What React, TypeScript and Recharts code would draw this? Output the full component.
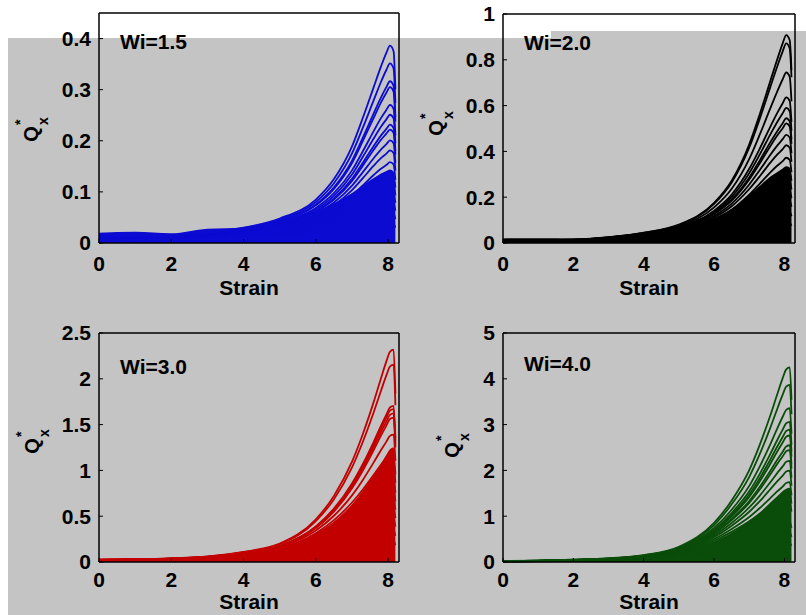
import React from "react";
import { Area, ComposedChart, Line, XAxis, YAxis } from "recharts";

const FONT = "'Liberation Sans', Arial, Helvetica, sans-serif";

const strain = [0, 1, 2, 3, 4, 5, 6, 6.5, 7, 7.3, 7.6, 7.8, 7.95, 8.05, 8.15, 8.2];
const strainTicks = [0, 2, 4, 6, 8];

// Wi = 1.5
const wi15Ticks = [0, 0.1, 0.2, 0.3, 0.4];
const wi15Band = [0.02, 0.022, 0.019, 0.028, 0.03, 0.042, 0.062, 0.078, 0.098, 0.113, 0.127, 0.136, 0.141, 0.144, 0.14, 0.115];
const wi15Curves = [
  [0.007, 0.0075, 0.008, 0.0105, 0.015, 0.017, 0.0213, 0.0249, 0.0301, 0.0331, 0.036, 0.0369, 0.0372, 0.0386, 0.0375, 0.0301],
  [0.008, 0.0086, 0.0092, 0.012, 0.0172, 0.0207, 0.0278, 0.0339, 0.0425, 0.0485, 0.054, 0.0566, 0.0577, 0.0598, 0.0581, 0.0467],
  [0.0088, 0.0094, 0.01, 0.0131, 0.0188, 0.0238, 0.0333, 0.0419, 0.0542, 0.063, 0.0714, 0.0759, 0.0781, 0.0811, 0.0788, 0.0632],
  [0.0094, 0.01, 0.0107, 0.014, 0.02, 0.0262, 0.0379, 0.0488, 0.0643, 0.076, 0.0872, 0.0935, 0.0967, 0.1004, 0.0975, 0.0783],
  [0.0099, 0.0106, 0.0113, 0.0148, 0.0211, 0.0283, 0.0421, 0.055, 0.0741, 0.0884, 0.1028, 0.1107, 0.1153, 0.1197, 0.1163, 0.0933],
  [0.0103, 0.011, 0.0118, 0.0155, 0.0221, 0.0303, 0.0461, 0.0611, 0.0835, 0.1007, 0.118, 0.128, 0.1339, 0.139, 0.135, 0.1084],
  [0.0107, 0.0115, 0.0122, 0.0161, 0.023, 0.0321, 0.0497, 0.067, 0.0926, 0.1127, 0.133, 0.1452, 0.1525, 0.1583, 0.1538, 0.1234],
  [0.0112, 0.012, 0.0128, 0.0167, 0.0239, 0.0342, 0.0541, 0.0738, 0.1034, 0.1269, 0.1513, 0.1659, 0.1748, 0.1814, 0.1763, 0.1415],
  [0.0115, 0.0123, 0.0132, 0.0173, 0.0247, 0.0358, 0.0574, 0.0791, 0.1121, 0.1387, 0.1659, 0.1829, 0.1934, 0.2007, 0.195, 0.1565],
  [0.0119, 0.0127, 0.0136, 0.0178, 0.0254, 0.0374, 0.061, 0.0849, 0.1215, 0.1514, 0.1824, 0.2018, 0.2139, 0.222, 0.2156, 0.1731],
  [0.012, 0.0129, 0.0137, 0.018, 0.0257, 0.0382, 0.0626, 0.0874, 0.1255, 0.157, 0.1897, 0.2101, 0.2232, 0.2316, 0.225, 0.1806],
  [0.0123, 0.0132, 0.0141, 0.0185, 0.0264, 0.0396, 0.0656, 0.0924, 0.1338, 0.1686, 0.2044, 0.2274, 0.2418, 0.2509, 0.2438, 0.1957],
  [0.0126, 0.0135, 0.0144, 0.0189, 0.027, 0.0409, 0.0686, 0.0974, 0.1421, 0.1796, 0.219, 0.2443, 0.2604, 0.2702, 0.2625, 0.2107],
  [0.013, 0.014, 0.0149, 0.0196, 0.028, 0.0432, 0.0738, 0.106, 0.1565, 0.1997, 0.2449, 0.2746, 0.2939, 0.3049, 0.2963, 0.2378],
  [0.0132, 0.0141, 0.0151, 0.0198, 0.0283, 0.0439, 0.0755, 0.1089, 0.1612, 0.2063, 0.2538, 0.2846, 0.305, 0.3165, 0.3075, 0.2468],
  [0.0136, 0.0146, 0.0156, 0.0204, 0.0292, 0.046, 0.0803, 0.117, 0.1752, 0.2256, 0.2794, 0.315, 0.3385, 0.3513, 0.3413, 0.2739],
  [0.014, 0.015, 0.016, 0.021, 0.03, 0.048, 0.085, 0.125, 0.189, 0.245, 0.305, 0.345, 0.372, 0.386, 0.375, 0.301],
];

// Wi = 2.0
const wi20Ticks = [0, 0.2, 0.4, 0.6, 0.8, 1];
const wi20Band = [0.02, 0.021, 0.02, 0.03, 0.045, 0.065, 0.11, 0.15, 0.21, 0.25, 0.29, 0.31, 0.325, 0.335, 0.33, 0.29];
const wi20Curves = [
  [0.006, 0.0065, 0.0075, 0.0125, 0.0225, 0.0284, 0.0439, 0.0541, 0.0685, 0.076, 0.0835, 0.086, 0.0872, 0.0908, 0.0885, 0.0754],
  [0.0069, 0.0074, 0.0086, 0.0143, 0.0257, 0.0346, 0.0572, 0.0737, 0.097, 0.1115, 0.1253, 0.1319, 0.1352, 0.1407, 0.1372, 0.1169],
  [0.0075, 0.0081, 0.0094, 0.0157, 0.0282, 0.0396, 0.0686, 0.0911, 0.1237, 0.1447, 0.1657, 0.1769, 0.1831, 0.1907, 0.1859, 0.1583],
  [0.008, 0.0087, 0.01, 0.0167, 0.0301, 0.0436, 0.0781, 0.1061, 0.1465, 0.1745, 0.2025, 0.2179, 0.2267, 0.2361, 0.2301, 0.196],
  [0.0084, 0.0092, 0.0106, 0.0176, 0.0317, 0.0472, 0.0866, 0.1197, 0.169, 0.2032, 0.2386, 0.2581, 0.2703, 0.2815, 0.2744, 0.2337],
  [0.0088, 0.0096, 0.011, 0.0184, 0.0331, 0.0505, 0.0949, 0.133, 0.1905, 0.2314, 0.274, 0.2983, 0.3139, 0.3269, 0.3186, 0.2714],
  [0.0092, 0.0099, 0.0115, 0.0191, 0.0344, 0.0535, 0.1024, 0.1458, 0.2112, 0.259, 0.3087, 0.3385, 0.3575, 0.3723, 0.3629, 0.3091],
  [0.0096, 0.0104, 0.012, 0.0199, 0.0359, 0.057, 0.1113, 0.1605, 0.2358, 0.2916, 0.3512, 0.3867, 0.4098, 0.4268, 0.416, 0.3544],
  [0.0099, 0.0107, 0.0123, 0.0206, 0.037, 0.0596, 0.1181, 0.1722, 0.2556, 0.3187, 0.3852, 0.4261, 0.4534, 0.4722, 0.4602, 0.3921],
  [0.0102, 0.011, 0.0127, 0.0212, 0.0381, 0.0624, 0.1257, 0.1847, 0.2771, 0.3479, 0.4234, 0.4703, 0.5014, 0.5221, 0.5089, 0.4336],
  [0.0103, 0.0112, 0.0129, 0.0215, 0.0386, 0.0636, 0.1288, 0.1901, 0.2862, 0.3609, 0.4404, 0.4896, 0.5232, 0.5448, 0.531, 0.4524],
  [0.0105, 0.0114, 0.0132, 0.022, 0.0396, 0.0659, 0.1351, 0.201, 0.3051, 0.3873, 0.4744, 0.5298, 0.5668, 0.5902, 0.5753, 0.4901],
  [0.0108, 0.0117, 0.0135, 0.0225, 0.0405, 0.0682, 0.1412, 0.2119, 0.3241, 0.4127, 0.5083, 0.5692, 0.6104, 0.6356, 0.6195, 0.5278],
  [0.0113, 0.0122, 0.0141, 0.0236, 0.0424, 0.0732, 0.1554, 0.2369, 0.3676, 0.474, 0.589, 0.6633, 0.715, 0.7446, 0.7257, 0.6183],
  [0.0119, 0.0128, 0.0148, 0.0247, 0.0445, 0.0786, 0.1708, 0.2644, 0.4172, 0.5433, 0.6818, 0.7726, 0.8371, 0.8717, 0.8496, 0.7238],
  [0.012, 0.013, 0.015, 0.025, 0.045, 0.08, 0.175, 0.272, 0.431, 0.563, 0.708, 0.804, 0.872, 0.908, 0.885, 0.754],
];

// Wi = 3.0
const wi30Ticks = [0, 0.5, 1, 1.5, 2, 2.5];
const wi30Band = [0.035, 0.038, 0.045, 0.06, 0.09, 0.15, 0.31, 0.44, 0.63, 0.78, 0.95, 1.07, 1.17, 1.23, 1.25, 1.0];
const wi30Curves = [
  [0.0125, 0.015, 0.02, 0.0301, 0.0551, 0.071, 0.117, 0.1437, 0.1741, 0.1887, 0.2063, 0.2144, 0.219, 0.2295, 0.2318, 0.184],
  [0.0143, 0.0172, 0.0229, 0.0343, 0.0629, 0.0864, 0.1524, 0.1957, 0.2464, 0.2768, 0.3094, 0.3287, 0.3395, 0.3557, 0.3593, 0.2852],
  [0.0157, 0.0188, 0.025, 0.0376, 0.0689, 0.099, 0.1827, 0.2419, 0.3143, 0.3593, 0.409, 0.4409, 0.4599, 0.482, 0.4868, 0.3864],
  [0.0167, 0.02, 0.0267, 0.0401, 0.0735, 0.109, 0.2078, 0.2816, 0.3723, 0.4334, 0.4999, 0.5431, 0.5694, 0.5967, 0.6027, 0.4784],
  [0.0176, 0.0211, 0.0282, 0.0422, 0.0774, 0.118, 0.2307, 0.3177, 0.4292, 0.5047, 0.5891, 0.6433, 0.6789, 0.7115, 0.7186, 0.5704],
  [0.0184, 0.0221, 0.0294, 0.0442, 0.081, 0.1262, 0.2526, 0.3531, 0.484, 0.5746, 0.6765, 0.7435, 0.7884, 0.8262, 0.8345, 0.6624],
  [0.0191, 0.023, 0.0306, 0.0459, 0.0842, 0.1338, 0.2726, 0.387, 0.5366, 0.6431, 0.7621, 0.8437, 0.8979, 0.941, 0.9504, 0.7544],
  [0.0199, 0.0239, 0.0319, 0.0478, 0.0877, 0.1424, 0.2964, 0.426, 0.599, 0.7242, 0.867, 0.9639, 1.0293, 1.0787, 1.0895, 0.8648],
  [0.0206, 0.0247, 0.0329, 0.0493, 0.0904, 0.149, 0.3146, 0.457, 0.6493, 0.7913, 0.9509, 1.0621, 1.1388, 1.1934, 1.2054, 0.9568],
  [0.0215, 0.0257, 0.0343, 0.0515, 0.0944, 0.159, 0.343, 0.5047, 0.7271, 0.8961, 1.0873, 1.2204, 1.314, 1.377, 1.3908, 1.104],
  [0.0223, 0.0267, 0.0356, 0.0535, 0.098, 0.1682, 0.3695, 0.5509, 0.8048, 0.9996, 1.2219, 1.3788, 1.4892, 1.5606, 1.5762, 1.2512],
  [0.0225, 0.027, 0.036, 0.0539, 0.0989, 0.1704, 0.3761, 0.5624, 0.8234, 1.0247, 1.2551, 1.4188, 1.533, 1.6065, 1.6226, 1.288],
  [0.0227, 0.0272, 0.0362, 0.0544, 0.0997, 0.1726, 0.3826, 0.574, 0.8421, 1.0499, 1.2883, 1.4569, 1.5768, 1.6524, 1.669, 1.3248],
  [0.0228, 0.0274, 0.0365, 0.0547, 0.1003, 0.1742, 0.3872, 0.5819, 0.8563, 1.0695, 1.3127, 1.487, 1.6097, 1.6868, 1.7037, 1.3524],
  [0.0245, 0.0293, 0.0391, 0.0587, 0.1076, 0.1936, 0.446, 0.6859, 1.0337, 1.3127, 1.6344, 1.8677, 2.0367, 2.1344, 2.1557, 1.7112],
  [0.025, 0.03, 0.04, 0.06, 0.11, 0.2, 0.466, 0.722, 1.095, 1.398, 1.748, 2.004, 2.19, 2.295, 2.318, 1.84],
];

// Wi = 4.0
const wi40Ticks = [0, 1, 2, 3, 4, 5];
const wi40Band = [0.03, 0.035, 0.05, 0.075, 0.12, 0.22, 0.45, 0.64, 0.9, 1.08, 1.3, 1.44, 1.55, 1.6, 1.62, 1.45];
const wi40Curves = [
  [0.01, 0.015, 0.0251, 0.0401, 0.0752, 0.1172, 0.2144, 0.2677, 0.3191, 0.3459, 0.378, 0.3929, 0.4014, 0.4206, 0.4249, 0.3544],
  [0.0114, 0.0172, 0.0286, 0.0458, 0.0858, 0.1426, 0.2793, 0.3645, 0.4516, 0.5073, 0.5669, 0.6022, 0.6222, 0.6519, 0.6586, 0.5493],
  [0.0125, 0.0188, 0.0313, 0.0501, 0.0939, 0.1634, 0.3348, 0.4506, 0.576, 0.6584, 0.7495, 0.8078, 0.8429, 0.8833, 0.8923, 0.7442],
  [0.0141, 0.0211, 0.0352, 0.0563, 0.1056, 0.1947, 0.4227, 0.5918, 0.7867, 0.9249, 1.0794, 1.1787, 1.2443, 1.3039, 1.3172, 1.0986],
  [0.0147, 0.0221, 0.0368, 0.0589, 0.1104, 0.2082, 0.4629, 0.6577, 0.8871, 1.053, 1.2396, 1.3623, 1.445, 1.5142, 1.5296, 1.2758],
  [0.0153, 0.023, 0.0383, 0.0612, 0.1148, 0.2208, 0.4996, 0.7209, 0.9834, 1.1785, 1.3965, 1.5459, 1.6457, 1.7245, 1.7421, 1.453],
  [0.0159, 0.0239, 0.0399, 0.0638, 0.1196, 0.235, 0.5431, 0.7936, 1.0978, 1.3271, 1.5887, 1.7662, 1.8866, 1.9768, 1.997, 1.6657],
  [0.0164, 0.0247, 0.0411, 0.0658, 0.1233, 0.2459, 0.5765, 0.8514, 1.1902, 1.4501, 1.7424, 1.9462, 2.0873, 2.1871, 2.2095, 1.8429],
  [0.0169, 0.0254, 0.0424, 0.0678, 0.1271, 0.2574, 0.6132, 0.9133, 1.2905, 1.5833, 1.9154, 2.1481, 2.3081, 2.4185, 2.4432, 2.0378],
  [0.0172, 0.0257, 0.0429, 0.0686, 0.1287, 0.2624, 0.6285, 0.9402, 1.3326, 1.6422, 1.9923, 2.2362, 2.4084, 2.5236, 2.5494, 2.1264],
  [0.0176, 0.0264, 0.044, 0.0703, 0.1319, 0.2719, 0.6593, 0.994, 1.421, 1.7627, 2.146, 2.4198, 2.6091, 2.7339, 2.7619, 2.3036],
  [0.0178, 0.0267, 0.0446, 0.0713, 0.1337, 0.2775, 0.6772, 1.0262, 1.4751, 1.8318, 2.2389, 2.5263, 2.7295, 2.8601, 2.8893, 2.4099],
  [0.0181, 0.0272, 0.0453, 0.0725, 0.1359, 0.2848, 0.7011, 1.0693, 1.5434, 1.9241, 2.3606, 2.6695, 2.8901, 3.0283, 3.0593, 2.5517],
  [0.0186, 0.028, 0.0466, 0.0746, 0.1398, 0.2967, 0.7413, 1.1406, 1.6618, 2.088, 2.572, 2.9229, 3.1711, 3.3227, 3.3567, 2.7998],
  [0.0194, 0.0292, 0.0486, 0.0778, 0.1458, 0.3161, 0.807, 1.2589, 1.8605, 2.3596, 2.934, 3.3525, 3.6527, 3.8275, 3.8666, 3.225],
  [0.02, 0.03, 0.05, 0.08, 0.15, 0.33, 0.854, 1.345, 2.007, 2.562, 3.203, 3.672, 4.014, 4.206, 4.249, 3.544],
];

const tickStyle = { fill: "#000", fontSize: 21, fontWeight: "bold", fontFamily: FONT };
const boxLine = { stroke: "#000", strokeWidth: 1.5 };

function QLabel({ x, y }: { x: number; y: number }) {
  return (
    <g transform={`translate(${x},${y}) rotate(-90)`} fontFamily={FONT} fontWeight="bold" fill="#000">
      <text x={0} y={7} fontSize={20} textAnchor="middle">Q</text>
      <text x={9} y={-6} fontSize={14}>*</text>
      <text x={9} y={17} fontSize={14}>x</text>
    </g>
  );
}

type PanelProps = {
  left: number;
  top: number;
  width: number;
  height: number;
  plotTop: number;
  yAxisWidth: number;
  rightGap: number;
  xAxisHeight: number;
  color: string;
  curves: number[][];
  band: number[];
  yMax: number;
  yTicks: number[];
  wi: string;
  wiY: number;
  qX: number;
  qY: number;
  strainY: number;
  tickGap: number;
};

function Panel(p: PanelProps) {
  const rows = strain.map((s, i) => {
    const row: Record<string, number> = { s, band: p.band[i] };
    p.curves.forEach((c, k) => {
      row[`c${k}`] = c[i];
    });
    return row;
  });
  const plotW = p.width - p.yAxisWidth - p.rightGap;
  const strainX = p.yAxisWidth + plotW / 2;
  return (
    <div style={{ position: "absolute", left: p.left, top: p.top, width: p.width, height: p.height }}>
      <ComposedChart
        width={p.width}
        height={p.height}
        data={rows}
        margin={{ top: p.plotTop - 1, right: p.rightGap - 1, bottom: 0, left: 0 }}
      >
        <XAxis
          dataKey="s"
          type="number"
          domain={[0, 8.3]}
          ticks={strainTicks}
          height={p.xAxisHeight}
          tickSize={-4}
          tickMargin={p.tickGap}
          tick={tickStyle}
          axisLine={boxLine}
          tickLine={{ stroke: "#000" }}
          label={{
            content: () => (
              <text x={strainX} y={p.strainY} textAnchor="middle" fontFamily={FONT} fontWeight="bold" fontSize={21} fill="#000">
                Strain
              </text>
            ),
          }}
        />
        <XAxis
          xAxisId="top"
          orientation="top"
          dataKey="s"
          type="number"
          domain={[0, 8.3]}
          ticks={strainTicks}
          height={1}
          tickSize={-4}
          tick={false}
          axisLine={boxLine}
          tickLine={{ stroke: "#000" }}
        />
        <YAxis
          type="number"
          domain={[0, p.yMax]}
          ticks={p.yTicks}
          width={p.yAxisWidth}
          tickSize={-4}
          tickMargin={12}
          tick={tickStyle}
          axisLine={boxLine}
          tickLine={{ stroke: "#000" }}
          label={{ content: () => <QLabel x={p.qX} y={p.qY} /> }}
        />
        <YAxis
          yAxisId="right"
          orientation="right"
          type="number"
          domain={[0, p.yMax]}
          ticks={p.yTicks}
          width={1}
          tickSize={-4}
          tick={false}
          axisLine={boxLine}
          tickLine={{ stroke: "#000" }}
        />
        <Area
          xAxisId="top"
          yAxisId="right"
          type="monotone"
          dataKey="band"
          stroke="none"
          fill={p.color}
          fillOpacity={1}
          isAnimationActive={false}
        />
        {p.curves.map((_, k) => (
          <Line
            key={k}
            type="monotone"
            dataKey={`c${k}`}
            stroke={p.color}
            strokeWidth={1.8}
            dot={false}
            activeDot={false}
            isAnimationActive={false}
          />
        ))}
      </ComposedChart>
      <svg
        width={p.width}
        height={p.height}
        style={{ position: "absolute", left: 0, top: 0, pointerEvents: "none" }}
      >
        <text x={p.yAxisWidth + 21} y={p.wiY} fontFamily={FONT} fontWeight="bold" fontSize={21} fill="#000">
          {p.wi}
        </text>
      </svg>
    </div>
  );
}

export default function App() {
  return (
    <div style={{ position: "absolute", left: 0, top: 0, width: 806, height: 615, background: "#fff", overflow: "hidden" }}>
      <div style={{ position: "absolute", left: 8, top: 38, width: 798, height: 577, background: "#c4c4c4" }} />
      <div style={{ position: "absolute", left: 551, top: 31, width: 255, height: 8, background: "#c4c4c4" }} />
      <Panel
        left={0}
        top={0}
        width={400}
        height={307}
        plotTop={13}
        yAxisWidth={99}
        rightGap={1}
        xAxisHeight={64}
        color="#0b0bd2"
        curves={wi15Curves}
        band={wi15Band}
        yMax={0.45}
        yTicks={wi15Ticks}
        wi="Wi=1.5"
        wiY={49}
        qX={31}
        qY={134}
        strainY={295}
        tickGap={17}
      />
      <Panel
        left={403}
        top={0}
        width={403}
        height={307}
        plotTop={14}
        yAxisWidth={100}
        rightGap={11}
        xAxisHeight={64}
        color="#000000"
        curves={wi20Curves}
        band={wi20Band}
        yMax={1}
        yTicks={wi20Ticks}
        wi="Wi=2.0"
        wiY={50}
        qX={33}
        qY={128}
        strainY={295}
        tickGap={17}
      />
      <Panel
        left={0}
        top={307}
        width={400}
        height={308}
        plotTop={26}
        yAxisWidth={99}
        rightGap={1}
        xAxisHeight={53}
        color="#c20000"
        curves={wi30Curves}
        band={wi30Band}
        yMax={2.5}
        yTicks={wi30Ticks}
        wi="Wi=3.0"
        wiY={67}
        qX={32}
        qY={139}
        strainY={302}
        tickGap={14}
      />
      <Panel
        left={403}
        top={307}
        width={403}
        height={308}
        plotTop={26}
        yAxisWidth={100}
        rightGap={11}
        xAxisHeight={53}
        color="#0a4d0a"
        curves={wi40Curves}
        band={wi40Band}
        yMax={5}
        yTicks={wi40Ticks}
        wi="Wi=4.0"
        wiY={64}
        qX={49}
        qY={143}
        strainY={302}
        tickGap={14}
      />
    </div>
  );
}
